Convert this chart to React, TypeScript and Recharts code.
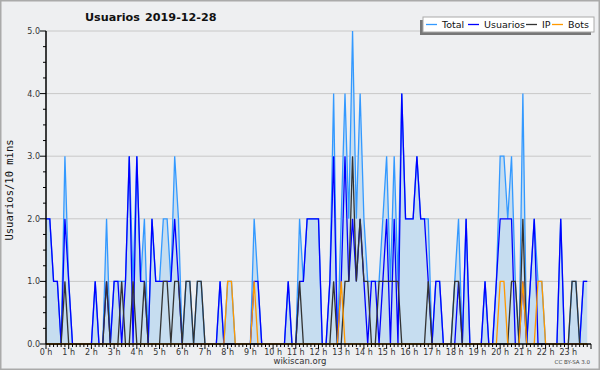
import { ComposedChart, Area, Line, XAxis, YAxis, CartesianGrid } from "recharts";

// one value per 10 minutes, 00:00 .. 23:50
const usuarios = [
  2, 2, 1, 1, 0, 2, 1, 0, 0, 0, 0, 0, 0, 1, 0, 0, 1, 0, 1, 1, 0, 1, 3, 0,
  3, 1, 1, 0, 2, 1, 1, 1, 1, 1, 2, 1, 0, 0, 0, 0, 0, 0, 0, 0, 0, 0, 1, 0,
  0, 0, 0, 0, 0, 0, 0, 1, 1, 0, 0, 0, 0, 0, 0, 0, 1, 0, 0, 1, 1, 2, 2, 2,
  2, 0, 0, 1, 3, 0, 1, 3, 1, 2, 1, 2, 1, 0, 1, 1, 0, 1, 2, 0, 2, 0, 4, 2,
  2, 2, 3, 2, 2, 1, 0, 1, 1, 0, 0, 0, 0, 1, 0, 2, 0, 0, 0, 0, 1, 0, 0, 1,
  2, 2, 2, 2, 0, 0, 1, 0, 1, 2, 0, 0, 0, 0, 0, 0, 2, 0, 0, 0, 0, 0, 1, 1,
];

const ip = [
  0, 0, 0, 0, 0, 1, 0, 0, 0, 0, 0, 0, 0, 0, 0, 0, 1, 0, 0, 0, 1, 0, 0, 1,
  0, 0, 1, 0, 0, 0, 0, 1, 1, 0, 1, 1, 0, 1, 1, 0, 1, 1, 0, 0, 0, 0, 0, 0,
  0, 0, 0, 0, 0, 0, 0, 0, 0, 0, 0, 0, 0, 0, 0, 0, 0, 0, 0, 1, 0, 0, 0, 0,
  0, 0, 0, 0, 1, 0, 0, 1, 1, 3, 1, 2, 1, 1, 0, 0, 1, 1, 1, 1, 1, 1, 0, 0,
  0, 0, 0, 0, 0, 1, 0, 0, 0, 0, 0, 0, 1, 1, 0, 0, 0, 0, 0, 0, 0, 0, 0, 0,
  0, 0, 0, 1, 1, 0, 2, 0, 0, 0, 0, 0, 0, 0, 0, 0, 0, 0, 0, 1, 1, 0, 0, 0,
];

const bots = [
  0, 0, 0, 0, 0, 0, 0, 0, 0, 0, 0, 0, 0, 0, 0, 0, 0, 0, 0, 0, 0, 0, 0, 0,
  0, 0, 0, 0, 0, 0, 0, 0, 0, 0, 0, 0, 0, 0, 0, 0, 0, 0, 0, 0, 0, 0, 0, 0,
  1, 1, 0, 0, 0, 0, 0, 1, 0, 0, 0, 0, 0, 0, 0, 0, 0, 0, 0, 0, 0, 0, 0, 0,
  0, 0, 0, 0, 0, 0, 1, 0, 0, 0, 0, 0, 0, 0, 0, 0, 0, 0, 0, 0, 0, 0, 0, 0,
  0, 0, 0, 0, 0, 0, 0, 0, 0, 0, 0, 0, 0, 0, 0, 0, 0, 0, 0, 0, 0, 0, 0, 0,
  1, 1, 0, 0, 0, 0, 1, 0, 0, 0, 1, 1, 0, 0, 0, 0, 0, 0, 0, 0, 0, 0, 0, 0,
];

const total = [
  2, 2, 1, 1, 0, 3, 1, 0, 0, 0, 0, 0, 0, 1, 0, 0, 2, 0, 1, 1, 1, 1, 3, 1,
  3, 1, 2, 0, 2, 1, 1, 2, 2, 1, 3, 2, 0, 1, 1, 0, 1, 1, 0, 0, 0, 0, 1, 0,
  1, 1, 0, 0, 0, 0, 0, 2, 1, 0, 0, 0, 0, 0, 0, 0, 1, 0, 0, 2, 1, 2, 2, 2,
  2, 0, 0, 1, 4, 0, 2, 4, 2, 5, 2, 4, 2, 1, 1, 1, 1, 2, 3, 1, 3, 1, 4, 2,
  2, 2, 3, 2, 2, 2, 0, 1, 1, 0, 0, 0, 1, 2, 0, 2, 0, 0, 0, 0, 1, 0, 0, 1,
  3, 3, 2, 3, 1, 0, 4, 0, 1, 2, 1, 1, 0, 0, 0, 0, 2, 0, 0, 1, 1, 0, 1, 1,
];

const hourLabels = [
  "0 h", "1 h", "2 h", "3 h", "4 h", "5 h", "6 h", "7 h", "8 h", "9 h", "10 h", "11 h",
  "12 h", "13 h", "14 h", "15 h", "16 h", "17 h", "18 h", "19 h", "20 h", "21 h", "22 h", "23 h",
];

const yTicks = [0, 0.25, 0.5, 0.75, 1, 1.25, 1.5, 1.75, 2, 2.25, 2.5, 2.75, 3, 3.25, 3.5, 3.75, 4, 4.25, 4.5, 4.75, 5];

const rows = usuarios.map((u, i) => ({
  i,
  total: total[i],
  usuarios: u,
  ip: ip[i],
  bots: bots[i],
}));

const xTicks = Array.from({ length: 145 }, (_, i) => i);

const FONT = "'DejaVu Sans', sans-serif";

function YTick(props: any) {
  const { x, y, payload } = props;
  const v = payload.value as number;
  const major = Number.isInteger(v);
  return (
    <g>
      <line x1={x - (major ? 6 : 3)} x2={x} y1={y} y2={y} stroke="#000" strokeWidth={1} />
      {major && (
        <text x={x - 6} y={y + 3} textAnchor="end" fontSize={8} fontFamily={FONT} fill="#333">
          {v.toFixed(1)}
        </text>
      )}
    </g>
  );
}

function XTick(props: any) {
  const { x, y, payload } = props;
  const v = payload.value as number;
  const hour = v % 6 === 0;
  return (
    <g>
      <line x1={x} x2={x} y1={y} y2={y + (hour ? 5 : 3)} stroke="#000" strokeWidth={1} />
      {hour && v < 144 && (
        <text x={x} y={y + 11} textAnchor="middle" fontSize={8} fontFamily={FONT} fill="#333">
          {hourLabels[v / 6]}
        </text>
      )}
    </g>
  );
}

export default function App() {
  return (
    <div style={{ position: "absolute", left: 0, top: 0, width: 600, height: 370, background: "#eeeff1" }}>
      <ComposedChart
        width={600}
        height={370}
        data={rows}
        margin={{ top: 31, right: 9, bottom: 6, left: 0 }}
      >
        <CartesianGrid vertical={false} horizontalValues={[1, 2, 3, 4, 5]} stroke="#c8c8c8" />
        <XAxis
          dataKey="i"
          type="number"
          domain={[0, 144]}
          ticks={xTicks}
          interval={0}
          height={20}
          tickSize={0}
          tickMargin={0}
          tick={XTick}
          axisLine={{ stroke: "#000", strokeWidth: 1.5 }}
        />
        <YAxis
          type="number"
          domain={[0, 5]}
          ticks={yTicks}
          interval={0}
          width={46}
          tickSize={0}
          tickMargin={0}
          tick={YTick}
          axisLine={{ stroke: "#000", strokeWidth: 1.5 }}
        />
        <Area
          type="linear"
          dataKey="total"
          stroke="#3399ff"
          strokeWidth={1.3}
          fill="#c6ddf0"
          fillOpacity={1}
          dot={false}
          activeDot={false}
          isAnimationActive={false}
        />
        <Line type="linear" dataKey="usuarios" stroke="#0000ff" strokeWidth={1.3} dot={false} activeDot={false} isAnimationActive={false} />
        <Line type="linear" dataKey="ip" stroke="#333333" strokeWidth={1.3} dot={false} activeDot={false} isAnimationActive={false} />
        <Line type="linear" dataKey="bots" stroke="#ff9900" strokeWidth={1.3} dot={false} activeDot={false} isAnimationActive={false} />
      </ComposedChart>

      <svg
        width={600}
        height={370}
        style={{ position: "absolute", left: 0, top: 0, pointerEvents: "none" }}
      >
        <rect x={0.75} y={0.75} width={598.5} height={368.5} fill="none" stroke="#aaaaaa" strokeWidth={1.5} />
        <text fontFamily={FONT} fontWeight="bold" fontSize={11.2} fill="#111">
          <tspan x={85} y={21}>Usuarios</tspan>
          <tspan x={145} y={21}>2019-12-28</tspan>
        </text>
        <text
          transform="translate(13,190) rotate(-90)"
          textAnchor="middle"
          fontFamily="'DejaVu Sans Mono', monospace"
          fontSize={10.5}
          fill="#111"
        >
          Usuarios/10 mins
        </text>

        <rect x={420} y={20} width={171} height={15} fill="#777" />
        <rect x={423} y={17} width={171} height={15} fill="#fff" stroke="#aaa" strokeWidth={1} />
        <line x1={426} x2={437} y1={24.5} y2={24.5} stroke="#3399ff" strokeWidth={1.3} />
        <text x={442} y={28.3} fontSize={9.5} fontFamily={FONT} fill="#111">Total</text>
        <line x1={468} x2={479} y1={24.5} y2={24.5} stroke="#0000ff" strokeWidth={1.3} />
        <text x={484} y={28.3} fontSize={9.5} fontFamily={FONT} fill="#111">Usuarios</text>
        <line x1={526} x2={537} y1={24.5} y2={24.5} stroke="#333333" strokeWidth={1.3} />
        <text x={542} y={28.3} fontSize={9.5} fontFamily={FONT} fill="#111">IP</text>
        <line x1={552} x2={563} y1={24.5} y2={24.5} stroke="#ff9900" strokeWidth={1.3} />
        <text x={568} y={28.3} fontSize={9.5} fontFamily={FONT} fill="#111">Bots</text>

        <text x={300} y={364} textAnchor="middle" fontSize={8.5} fontFamily={FONT} fill="#333">wikiscan.org</text>
        <text x={590} y={364} textAnchor="end" fontSize={5.5} fontFamily={FONT} fill="#444">CC BY-SA 3.0</text>
      </svg>
    </div>
  );
}
